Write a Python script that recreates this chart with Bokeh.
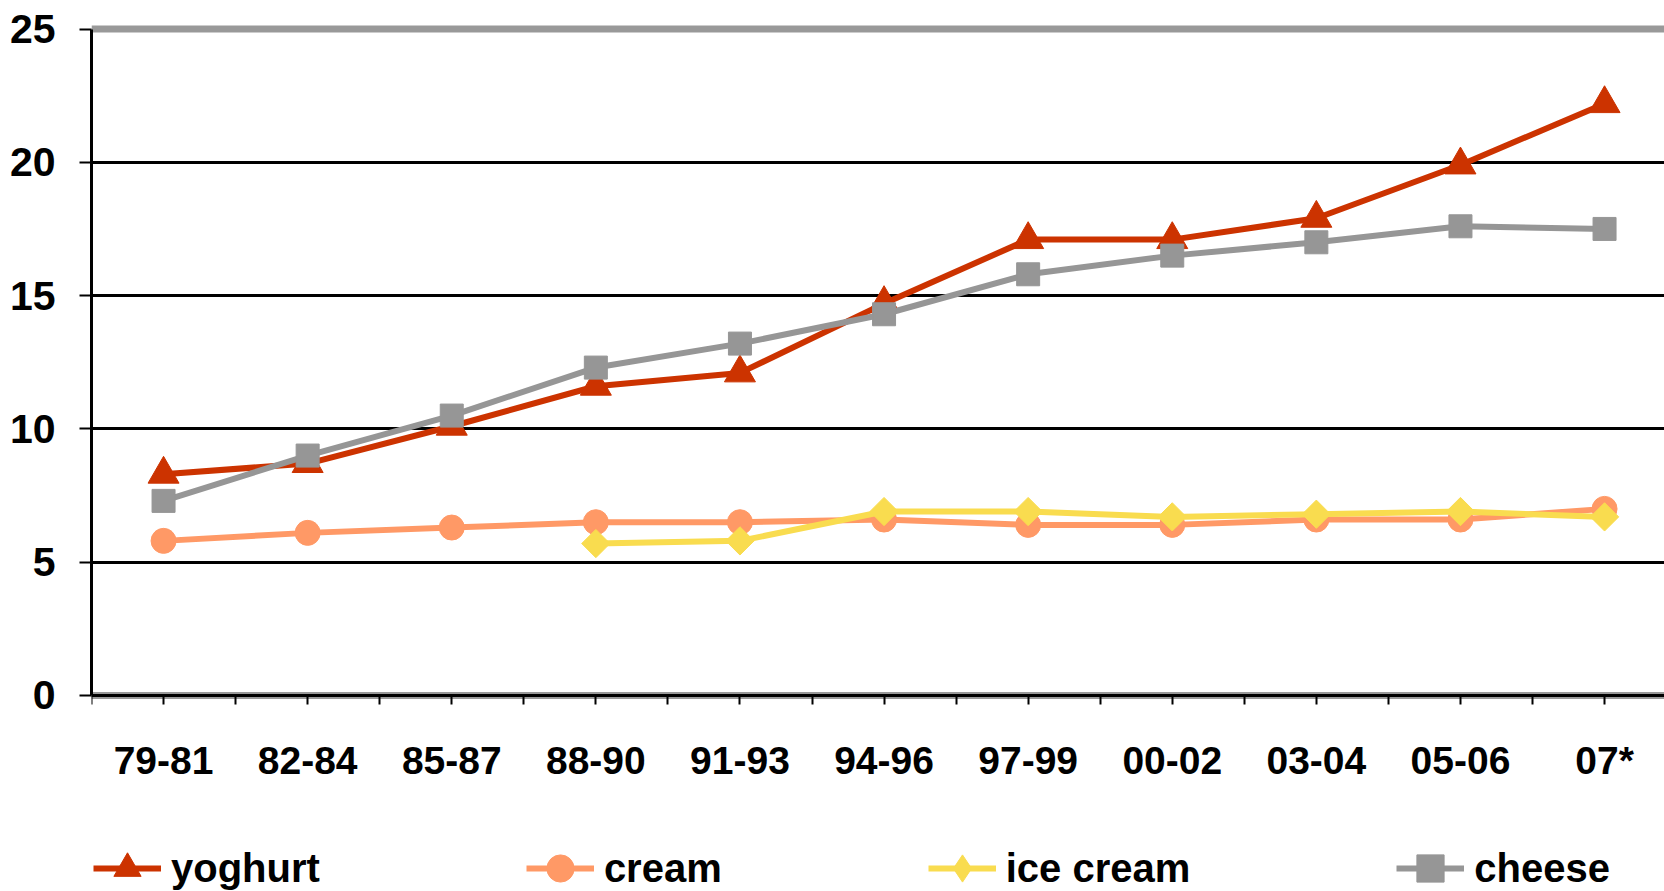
from bokeh.plotting import figure
from bokeh.models import (Range1d, FixedTicker, Span, Legend, LegendItem)
from bokeh.embed import file_html
from bokeh.resources import INLINE
import math

# Consumption per head by period
periods = ["79-81", "82-84", "85-87", "88-90", "91-93", "94-96",
           "97-99", "00-02", "03-04", "05-06", "07*"]
yoghurt = [8.3, 8.7, 10.1, 11.6, 12.1, 14.7, 17.1, 17.1, 17.9, 19.9, 22.2]
cream = [5.8, 6.1, 6.3, 6.5, 6.5, 6.6, 6.4, 6.4, 6.6, 6.6, 7.0]
ice_cream = [None, None, None, 5.7, 5.8, 6.9, 6.9, 6.7, 6.8, 6.9, 6.7]
cheese = [7.3, 9.0, 10.5, 12.3, 13.2, 14.3, 15.8, 16.5, 17.0, 17.6, 17.5]
y_ticks = [0, 5, 10, 15, 20, 25]

FONT = "Liberation Sans, Arial, sans-serif"

xs = list(range(len(periods)))
ice = [math.nan if v is None else v for v in ice_cream]

# the frame reaches the bottom of the page so the axis and legend sit inside it
p = figure(width=1664, height=891, output_backend="svg", toolbar_location=None,
           x_range=Range1d(-0.5, 10.416), y_range=Range1d(-7.352, 25.244),
           min_border_left=91, min_border_right=0, min_border_top=22,
           min_border_bottom=0)
p.outline_line_color = None
p.background_fill_color = "white"
p.border_fill_color = "white"

# grid: black horizontal lines, none vertical
p.xgrid.visible = False
p.ygrid.ticker = FixedTicker(ticks=y_ticks[1:-1])
p.ygrid.grid_line_color = "black"
p.ygrid.grid_line_width = 3

# plot area border (grey) at top and bottom
p.add_layout(Span(location=y_ticks[-1], dimension="width", line_color="#999999",
                  line_width=7, level="underlay"))
p.add_layout(Span(location=0, dimension="width", line_color="#999999",
                  line_width=7, level="underlay"))

# y axis, limited to the value range
p.yaxis.ticker = FixedTicker(ticks=y_ticks)
p.yaxis.bounds = (y_ticks[0], y_ticks[-1])
p.yaxis.axis_line_color = "black"
p.yaxis.axis_line_width = 3
p.yaxis.major_tick_out = 12
p.yaxis.major_tick_in = 0
p.yaxis.major_tick_line_width = 2
p.yaxis.minor_tick_line_color = None
p.yaxis.major_label_standoff = 24
p.yaxis.major_label_text_font = FONT
p.yaxis.major_label_text_font_style = "bold"
p.yaxis.major_label_text_font_size = "41px"
p.yaxis.major_label_text_color = "black"

# x axis at zero: labels at period centres, ticks at centres and boundaries
p.xaxis.fixed_location = 0
p.xaxis.ticker = FixedTicker(ticks=xs, minor_ticks=[x - 0.5 for x in xs] + [xs[-1] + 0.5])
p.xaxis.major_label_overrides = {x: lab for x, lab in zip(xs, periods)}
p.xaxis.axis_line_color = "black"
p.xaxis.axis_line_width = 3
p.xaxis.major_tick_out = 9
p.xaxis.major_tick_in = 0
p.xaxis.major_tick_line_width = 2
p.xaxis.minor_tick_out = 9
p.xaxis.minor_tick_in = 0
p.xaxis.minor_tick_line_width = 2
p.xaxis.minor_tick_line_color = "black"
p.xaxis.major_label_standoff = 35
p.xaxis.major_label_text_font = FONT
p.xaxis.major_label_text_font_style = "bold"
p.xaxis.major_label_text_font_size = "39px"
p.xaxis.major_label_text_color = "black"

# name, values, colour, marker, size, marker angle, legend marker
series = [
    ("yoghurt", yoghurt, "#CC3300", "triangle", 31, 0, None),
    ("cream", cream, "#FF9966", "circle", 25, 0, None),
    ("ice cream", ice, "#F9DC4F", "square", 20, math.pi / 4, "diamond"),
    ("cheese", cheese, "#969696", "square", 23, 0, None),
]

items = []
for name, vals, color, marker, size, angle, key_marker in series:
    ln = p.line(xs, vals, line_color=color, line_width=6)
    sc = p.scatter(xs, vals, marker=marker, size=size, angle=angle,
                   fill_color=color, line_color=color)
    if key_marker is not None:
        # the legend key does not rotate markers, so give it its own shape
        sc = p.scatter([math.nan], [math.nan], marker=key_marker, size=size,
                       fill_color=color, line_color=color)
    items.append(LegendItem(label=name, renderers=[ln, sc]))

legend = Legend(items=items, orientation="horizontal", location=(2, -12),
                glyph_width=68, glyph_height=70, label_standoff=10, spacing=206,
                padding=0, margin=0, border_line_color=None,
                background_fill_alpha=0,
                label_text_font=FONT, label_text_font_style="bold",
                label_text_font_size="40px", label_text_color="black",
                label_text_baseline="middle")
p.add_layout(legend, "center")

open("out.html", "w").write(file_html(p, INLINE))
